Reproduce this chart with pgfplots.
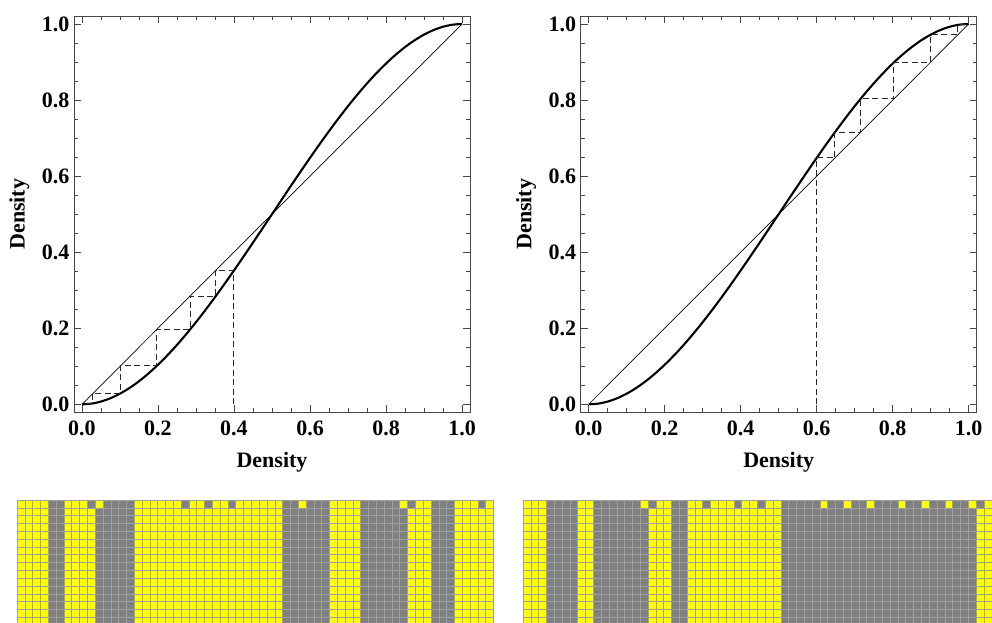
\documentclass[border=0pt]{standalone}
\usepackage{fontspec}
\setmainfont{Liberation Serif}
\usepackage{pgfplots}
\usepackage{pgfplotstable}
\pgfplotsset{compat=1.18}

\definecolor{cellyellow}{RGB}{255,255,0}
\definecolor{cellgray}{RGB}{128,128,128}
\definecolor{meshgray}{RGB}{160,160,160}
\definecolor{framegray}{RGB}{70,70,70}

% update map f(x) = 3x^2 - 2x^3, tabulated
\pgfplotstableread{
x f
0     0
0.025 0.001844
0.05  0.00725
0.075 0.016031
0.1   0.028
0.125 0.042969
0.15  0.06075
0.175 0.081156
0.2   0.104
0.225 0.129094
0.25  0.15625
0.275 0.185281
0.3   0.216
0.325 0.248219
0.35  0.28175
0.375 0.316406
0.4   0.352
0.425 0.388344
0.45  0.42525
0.475 0.462531
0.5   0.5
0.525 0.537469
0.55  0.57475
0.575 0.611656
0.6   0.648
0.625 0.683594
0.65  0.71825
0.675 0.751781
0.7   0.784
0.725 0.814719
0.75  0.84375
0.775 0.870906
0.8   0.896
0.825 0.918844
0.85  0.93925
0.875 0.957031
0.9   0.972
0.925 0.983969
0.95  0.99275
0.975 0.998156
1     1
}\curvetable

\newcommand{\bigbf}{\fontsize{22}{26}\selectfont\bfseries}

\pgfplotsset{
  webframe/.style={
    scale only axis, width=396pt, height=396.3pt,
    xmin=-0.021, xmax=1.021, ymin=-0.021, ymax=1.021,
    xtick={0,0.2,0.4,0.6,0.8,1}, ytick={0,0.2,0.4,0.6,0.8,1},
    minor tick num=3, tick align=inside, tick pos=both,
    major tick length=7pt, minor tick length=4pt,
    tick style={color=framegray, line width=0.8pt},
    axis line style={color=framegray, line width=0.9pt},
    xticklabel style={font=\bigbf, inner ysep=8.5pt,
      /pgf/number format/.cd, fixed, fixed zerofill, precision=1, assume math mode=true},
    yticklabel style={font=\bigbf, inner xsep=4.5pt,
      /pgf/number format/.cd, fixed, fixed zerofill, precision=1, assume math mode=true},
    xlabel={Density}, ylabel={Density},
    xlabel style={font=\bigbf, at={(axis description cs:0.5,0)}, anchor=base, yshift=-55pt},
    ylabel style={font=\bigbf, at={(axis description cs:-0.1247,0.5)}, anchor=base, rotate=0},
  },
  spacetime/.style={
    anchor=south west, scale only axis, height=123.7pt,
    ymin=0.16, ymax=16,
    ytick={1,...,16},
    xticklabels={}, yticklabels={},
    major tick length=0pt,
    grid=major, major grid style={color=meshgray, line width=1pt},
    axis line style={draw=none}, axis on top,
  },
}

\begin{document}
\begin{tikzpicture}

% ---- left cobweb: start at 0.4 ----
\begin{axis}[webframe, anchor=south west, at={(74pt,209.7pt)}]
  \addplot[black, line width=0.7pt] coordinates {(0,0) (1,1)};
  \addplot[black, line width=2.1pt, smooth] table[x=x, y=f] {\curvetable};
  \addplot[black!85, line width=1pt, dash pattern=on 6pt off 3.5pt] coordinates {
    (0.4,0) (0.4,0.352) (0.352,0.352) (0.352,0.284484)
    (0.284484,0.284484) (0.284484,0.196745) (0.196745,0.196745)
    (0.196745,0.100894) (0.100894,0.100894) (0.100894,0.028485)
    (0.028485,0.028485) (0.028485,0.002388) (0.002388,0.002388)};
\end{axis}

% ---- right cobweb: start at 0.6 ----
\begin{axis}[webframe, anchor=south west, at={(580.7pt,209.7pt)}]
  \addplot[black, line width=0.7pt] coordinates {(0,0) (1,1)};
  \addplot[black, line width=2.1pt, smooth] table[x=x, y=f] {\curvetable};
  \addplot[black!85, line width=1pt, dash pattern=on 6pt off 3.5pt] coordinates {
    (0.6,0) (0.6,0.648) (0.648,0.648) (0.648,0.715516)
    (0.715516,0.715516) (0.715516,0.803259) (0.803259,0.803259)
    (0.803259,0.899107) (0.899107,0.899107) (0.899107,0.971513)
    (0.971513,0.971513) (0.971513,0.997612) (0.997612,0.997612)};
\end{axis}

% ---- left space-time diagram (61 cells) ----
\begin{axis}[spacetime, at={(17.3pt,-2pt)}, width=476.4pt,
    xmin=0, xmax=61, xtick={0,...,61}]
  \addplot[const plot, fill=cellgray, draw=none] coordinates {(0,16) (61,16)} \closedcycle;
  % initial row
  \addplot[const plot, fill=cellyellow, draw=none] coordinates {
    (0,16) (4,0) (6,16) (9,0) (10,16) (11,0) (15,16) (21,0) (22,16)
    (24,0) (25,16) (27,0) (28,16) (34,0) (36,16) (37,0) (40,16) (44,0)
    (49,16) (50,0) (51,16) (53,0) (56,16) (59,0) (60,16) (61,16)} \closedcycle;
  % later rows
  \addplot[const plot, fill=cellgray, draw=none] coordinates {
    (0,0) (4,15) (6,0) (10,15) (15,0) (34,15) (40,0) (44,15) (50,0)
    (53,15) (56,0) (61,0)} \closedcycle;
  \addplot[const plot, fill=cellyellow, draw=none] coordinates {
    (0,15) (4,0) (6,15) (10,0) (15,15) (34,0) (40,15) (44,0) (50,15)
    (53,0) (56,15) (61,15)} \closedcycle;
\end{axis}

% ---- right space-time diagram ----
\begin{axis}[spacetime, at={(523.3pt,-2pt)}, width=468.6pt,
    xmin=0, xmax=60, xtick={0,...,59}]
  \addplot[const plot, fill=cellgray, draw=none] coordinates {(0,16) (60,16)} \closedcycle;
  % initial row
  \addplot[const plot, fill=cellyellow, draw=none] coordinates {
    (0,16) (3,0) (7,16) (9,0) (15,16) (16,0) (17,16) (19,0) (21,16)
    (23,0) (24,16) (27,0) (28,16) (30,0) (31,16) (33,0) (38,16) (39,0)
    (41,16) (42,0) (44,16) (45,0) (48,16) (49,0) (51,16) (52,0) (54,16)
    (55,0) (57,16) (58,0) (59,16) (60,16)} \closedcycle;
  % later rows
  \addplot[const plot, fill=cellgray, draw=none] coordinates {
    (0,0) (3,15) (7,0) (9,15) (16,0) (19,15) (21,0) (33,15) (58,0)
    (60,0)} \closedcycle;
  \addplot[const plot, fill=cellyellow, draw=none] coordinates {
    (0,15) (3,0) (7,15) (9,0) (16,15) (19,0) (21,15) (33,0) (58,15)
    (60,15)} \closedcycle;
\end{axis}

\pgfresetboundingbox
\path[use as bounding box] (0,0) rectangle (992pt,622pt);
\end{tikzpicture}
\end{document}
